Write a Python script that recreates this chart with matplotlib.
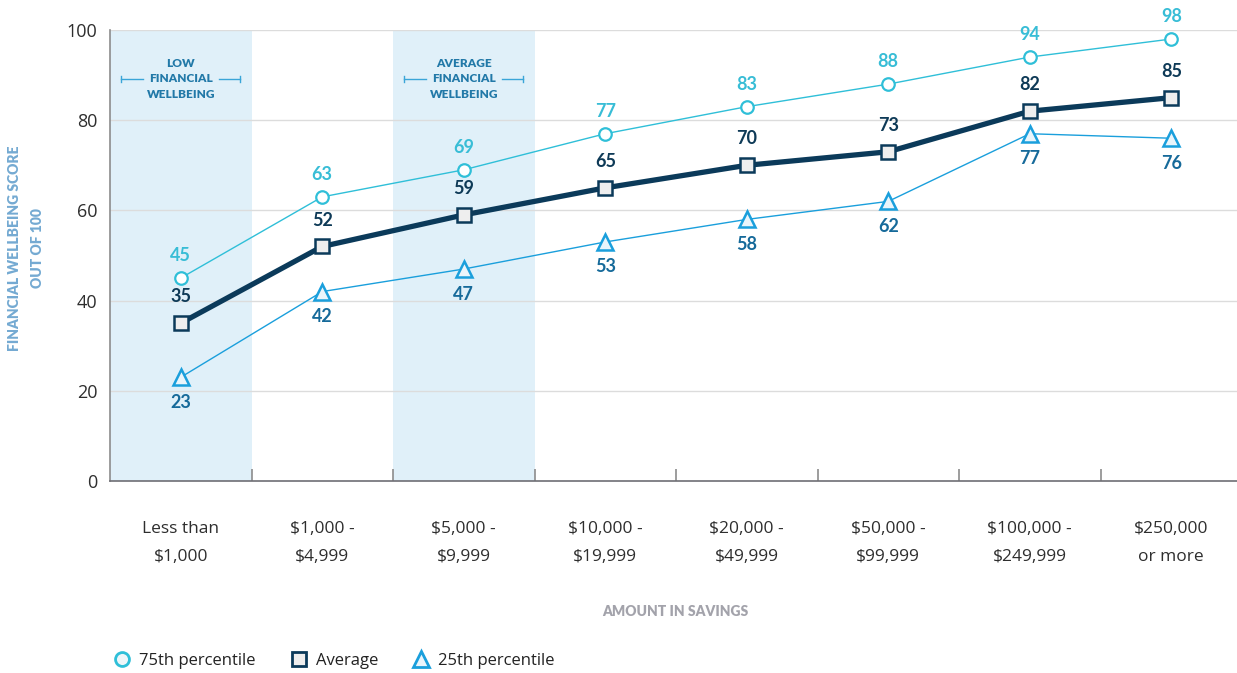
import matplotlib
matplotlib.use("Agg")
import matplotlib.pyplot as plt
from matplotlib.lines import Line2D

categories = ["Less than\n$1,000", "$1,000 -\n$4,999", "$5,000 -\n$9,999", "$10,000 -\n$19,999",
              "$20,000 -\n$49,999", "$50,000 -\n$99,999", "$100,000 -\n$249,999", "$250,000\nor more"]
p75 = [45, 63, 69, 77, 83, 88, 94, 98]
avg = [35, 52, 59, 65, 70, 73, 82, 85]
p25 = [23, 42, 47, 53, 58, 62, 77, 76]
yticks = [0, 20, 40, 60, 80, 100]
bands = [(0, "LOW\nFINANCIAL\nWELLBEING"), (2, "AVERAGE\nFINANCIAL\nWELLBEING")]

C75 = "#2fbfd8"
CAVG = "#0b3a5a"
C25 = "#1a9fdc"
L75 = "#38bdd6"
LAVG = "#0e3a57"
L25 = "#166a9a"

W, H = 1237, 673
fig = plt.figure(figsize=(W / 100, H / 100), dpi=100)
ax = fig.add_axes([110 / W, 1 - 481 / H, (W - 110) / W, (481 - 30) / H])
xs = list(range(len(categories)))
ax.set_xlim(-0.5, -0.5 + (W - 110) / 141.5)
ax.set_ylim(0, 100)

ymid = (481 - 79) / 4.51
for i, txt in bands:
    ax.axvspan(i - 0.5, i + 0.5, color="#e0f0f9", zorder=0, lw=0)
    ax.text(i, ymid, txt, ha="center", va="center", fontsize=8.6, fontweight="heavy",
            family="Lato", color="#2279a8", linespacing=1.5, zorder=3)
    for a, b in [(i - 0.42, i - 0.27), (i + 0.27, i + 0.42)]:
        ax.plot([a, b], [ymid, ymid], color="#3aa5d8", lw=1.0, zorder=3)
    for e in [i - 0.42, i + 0.42]:
        ax.plot([e, e], [ymid - 0.7, ymid + 0.7], color="#3aa5d8", lw=1.0, zorder=3)

for y in yticks[1:]:
    ax.axhline(y, color="#dcdcdc", lw=1, zorder=1)

ax.plot(xs, p75, color=C75, lw=1.0, marker="o", ms=9, mfc="white", mec=C75, mew=1.6, zorder=4, clip_on=False)
ax.plot(xs, avg, color=CAVG, lw=3.8, marker="s", ms=10, mfc="#eeeeee", mec=CAVG, mew=1.8, zorder=5, clip_on=False)
ax.plot(xs, p25, color=C25, lw=1.0, marker="^", ms=11, mfc="#eaf5fb", mec=C25, mew=1.8, zorder=4, clip_on=False)

for x, v in zip(xs, p75):
    ax.annotate(str(v), (x, v), xytext=(0, 16), textcoords="offset points", ha="center", va="center",
                fontsize=13, fontweight="bold", family="Lato", color=L75, zorder=6, annotation_clip=False)
for x, v in zip(xs, avg):
    ax.annotate(str(v), (x, v), xytext=(0, 19), textcoords="offset points", ha="center", va="center",
                fontsize=13, fontweight="bold", family="Lato", color=LAVG, zorder=6, annotation_clip=False)
for x, v in zip(xs, p25):
    ax.annotate(str(v), (x, v), xytext=(0, -18), textcoords="offset points", ha="center", va="center",
                fontsize=13, fontweight="bold", family="Lato", color=L25, zorder=6, annotation_clip=False)

for s in ["top", "right"]:
    ax.spines[s].set_visible(False)
ax.spines["left"].set_color("#8c8c8c")
ax.spines["left"].set_linewidth(1.2)
ax.spines["bottom"].set_color("#6e6e74")
ax.spines["bottom"].set_linewidth(1.2)

ax.set_yticks(yticks)
ax.set_yticklabels([str(y) for y in yticks], fontsize=13, family="Open Sans", color="#2e2e2e")
ax.tick_params(axis="y", length=0, pad=9)
ax.set_xticks(xs)
ax.set_xticklabels(categories, fontsize=12.5, family="Open Sans", color="#2e2e2e", linespacing=2.0)
ax.tick_params(axis="x", which="major", length=0, pad=29)
ax.set_xticks([i + 0.5 for i in xs[:-1]], minor=True)
ax.tick_params(axis="x", which="minor", direction="in", length=9, color="#8c8c8c", width=1.2)

fig.text(15 / W, 1 - 248 / H, "FINANCIAL WELLBEING SCORE", rotation=90, ha="center", va="center",
         fontsize=10, fontweight="heavy", family="Lato", color="#74aad2")
fig.text(37 / W, 1 - 248 / H, "OUT OF 100", rotation=90, ha="center", va="center",
         fontsize=10, fontweight="heavy", family="Lato", color="#74aad2")
fig.text(675 / W, 1 - 612 / H, "AMOUNT IN SAVINGS", ha="center", va="center",
         fontsize=10, fontweight="heavy", family="Lato", color="#a3a3ab")

handles = [
    Line2D([], [], ls="none", marker="o", ms=10, mfc="#eef6f9", mec=C75, mew=2),
    Line2D([], [], ls="none", marker="s", ms=10, mfc="#eeeeee", mec=CAVG, mew=2),
    Line2D([], [], ls="none", marker="^", ms=11, mfc="#eaf5fb", mec=C25, mew=2),
]
fig.legend(handles, ["75th percentile", "Average", "25th percentile"], loc="center left",
           bbox_to_anchor=(99 / W, 1 - 661 / H), ncol=3, frameon=False, handlelength=1.0,
           handletextpad=0.5, columnspacing=2.1, prop={"family": "Open Sans", "size": 12})
for t in fig.legends[0].get_texts():
    t.set_color("#222222")

fig.savefig("out.png", dpi=100)
